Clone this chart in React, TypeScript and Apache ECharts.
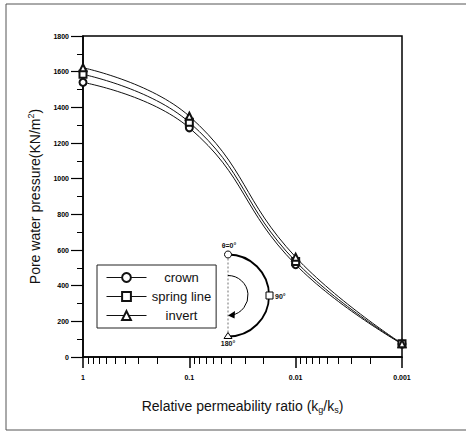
import React, { useEffect, useRef } from "react";
import * as echarts from "echarts";

const xValues = [1, 0.1, 0.01, 0.001];
const xTickLabels = ["1", "0.1", "0.01", "0.001"];
const crown = [1540, 1285, 518, 73];
const springLine = [1585, 1316, 536, 74];
const invert = [1622, 1350, 560, 75];
const seriesNames = ["crown", "spring line", "invert"];
const seriesSymbols = ["emptyCircle", "emptyRect", "emptyTriangle"];
const yMin = 0;
const yMax = 1800;
const yInterval = 200;
const decades = [1, 0.1, 0.01];
const minorMultipliers = [2, 3, 4, 5, 6, 7, 8, 9];

const FONT = "Liberation Sans, Arial, sans-serif";

export default function App() {
  const ref = useRef<HTMLDivElement>(null);
  useEffect(() => {
    document.body.style.margin = "0";
    const chart = echarts.init(ref.current!, null, { renderer: "svg" });
    const allSeries = [crown, springLine, invert];
    const minorTickValues = decades.flatMap((d) =>
      minorMultipliers.map((k) => Math.log10((k * d) / 10))
    );
    const cx = 228;
    const cy = 295.5;
    const option: any = {
      animation: false,
      backgroundColor: "#fff",
      grid: {
        left: 83,
        top: 36,
        width: 319,
        height: 321,
        show: true,
        borderColor: "#000",
        borderWidth: 1.5,
        containLabel: false,
      },
      legend: {
        orient: "vertical",
        left: 97,
        top: 265,
        itemWidth: 40,
        itemHeight: 11,
        itemGap: 6,
        padding: [6, 5, 6, 9],
        borderColor: "#222",
        borderWidth: 1,
        data: seriesNames,
        lineStyle: { width: 1 },
        formatter: (n: string) => `{c|${n}}`,
        textStyle: {
          color: "#111",
          rich: {
            c: { width: 60, align: "center", fontSize: 13, fontFamily: FONT, color: "#111" },
          },
        },
      },
      xAxis: [
        {
          type: "log",
          logBase: 10,
          min: 0.001,
          max: 1,
          inverse: true,
          position: "bottom",
          splitNumber: 3,
          axisLine: { lineStyle: { color: "#000", width: 1.5 } },
          axisTick: { show: true, length: 11, lineStyle: { color: "#000", width: 1.5 } },
          splitLine: { show: false },
          minorTick: { show: false },
          axisLabel: {
            margin: 17,
            fontSize: 7,
            fontWeight: "bold",
            fontFamily: FONT,
            color: "#000",
            formatter: (v: number) => xTickLabels[Math.round(-Math.log10(v))],
          },
          name: "Relative permeability ratio (k{sub|g}/k{sub|s})",
          nameLocation: "middle",
          nameGap: 40,
          nameTextStyle: {
            fontSize: 14,
            fontFamily: FONT,
            color: "#111",
            rich: {
              sub: { fontSize: 9, fontFamily: FONT, color: "#111", verticalAlign: "bottom", padding: [8, 0, 0, 0] },
            },
          },
        },
        {
          type: "value",
          min: -3,
          max: 0,
          inverse: true,
          position: "bottom",
          axisLine: { show: false },
          axisLabel: { show: false },
          splitLine: { show: false },
          axisTick: {
            show: true,
            length: 7,
            customValues: minorTickValues,
            lineStyle: { color: "#000", width: 1 },
          },
        },
      ],
      yAxis: {
        type: "value",
        min: yMin,
        max: yMax,
        interval: yInterval,
        axisLine: { show: true, lineStyle: { color: "#000", width: 1.5 } },
        axisTick: { show: true, length: 12, lineStyle: { color: "#000", width: 1.2 } },
        minorTick: { show: true, splitNumber: 2, length: 6, lineStyle: { color: "#000", width: 1 } },
        splitLine: { show: false },
        axisLabel: {
          margin: 14,
          fontSize: 7,
          fontWeight: "bold",
          fontFamily: FONT,
          color: "#000",
          formatter: (v: number) => String(v),
        },
        name: "Pore water pressure(KN/m{sup|2})",
        nameLocation: "middle",
        nameGap: 40,
        nameTextStyle: {
          fontSize: 14,
          fontFamily: FONT,
          color: "#111",
          rich: {
            sup: { fontSize: 9, fontFamily: FONT, color: "#111", verticalAlign: "top", padding: [0, 0, 8, 0] },
          },
        },
      },
      series: allSeries.map((vals, i) => ({
        name: seriesNames[i],
        type: "line",
        xAxisIndex: 0,
        smooth: 0.45,
        symbol: seriesSymbols[i],
        symbolSize: 7,
        showSymbol: true,
        data: vals.map((v, j) => [xValues[j], v]),
        lineStyle: { color: "#111", width: 1 },
        itemStyle: { color: "#111", borderWidth: 1 },
      })),
      graphic: [
        { type: "line", shape: { x1: 6, y1: 4, x2: 466, y2: 4 }, style: { stroke: "#555", lineWidth: 1 } },
        { type: "line", shape: { x1: 6, y1: 4, x2: 6, y2: 430 }, style: { stroke: "#555", lineWidth: 1 } },
        { type: "line", shape: { x1: 6, y1: 430, x2: 466, y2: 430 }, style: { stroke: "#555", lineWidth: 1 } },
        {
          type: "line",
          shape: { x1: cx, y1: cy - 41, x2: cx, y2: cy + 41 },
          style: { stroke: "#333", lineWidth: 0.7, lineDash: [2, 2] },
        },
        {
          type: "arc",
          shape: { cx, cy, r: 41, startAngle: -Math.PI / 2, endAngle: Math.PI / 2, clockwise: true },
          style: { stroke: "#000", lineWidth: 1.8, fill: "none" },
        },
        {
          type: "arc",
          shape: { cx, cy, r: 20, startAngle: -Math.PI / 2, endAngle: (80 * Math.PI) / 180, clockwise: true },
          style: { stroke: "#000", lineWidth: 1, fill: "none" },
        },
        {
          type: "polygon",
          shape: { points: [[228, 315.5], [235, 311], [234.5, 318.5]] },
          style: { fill: "#000" },
        },
        { type: "circle", shape: { cx, cy: cy - 41, r: 3.5 }, style: { fill: "#fff", stroke: "#000", lineWidth: 1 } },
        { type: "rect", shape: { x: cx + 38, y: cy - 3.5, width: 7, height: 7 }, style: { fill: "#fff", stroke: "#000", lineWidth: 1 } },
        {
          type: "polygon",
          shape: { points: [[cx, cy + 37], [cx - 4, cy + 43], [cx + 4, cy + 43]] },
          style: { fill: "#fff", stroke: "#000", lineWidth: 1 },
        },
        { type: "text", x: cx + 1, y: cy - 50, style: { text: "θ=0°", fontSize: 7, fontWeight: "bold", fontFamily: FONT, fill: "#111", align: "center", verticalAlign: "middle" } },
        { type: "text", x: cx + 47, y: cy + 0.5, style: { text: "90°", fontSize: 7, fontWeight: "bold", fontFamily: FONT, fill: "#111", align: "left", verticalAlign: "middle" } },
        { type: "text", x: cx, y: cy + 48, style: { text: "180°", fontSize: 7, fontWeight: "bold", fontFamily: FONT, fill: "#111", align: "center", verticalAlign: "middle" } },
      ],
    };
    chart.setOption(option);
    return () => chart.dispose();
  }, []);
  return <div ref={ref} style={{ width: 466, height: 432 }} />;
}
